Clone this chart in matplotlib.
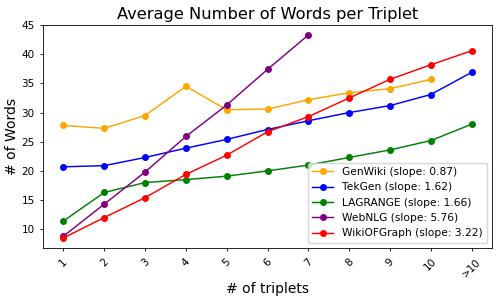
import matplotlib
matplotlib.use("Agg")
import matplotlib.pyplot as plt

x_labels = ["1", "2", "3", "4", "5", "6", "7", "8", "9", "10", ">10"]
genwiki = [27.8, 27.3, 29.5, 34.5, 30.5, 30.6, 32.2, 33.4, 34.1, 35.7]
tekgen = [20.7, 20.9, 22.3, 23.9, 25.4, 27.1, 28.6, 30.0, 31.2, 33.1, 36.9]
lagrange = [11.4, 16.3, 18.0, 18.5, 19.1, 20.0, 21.0, 22.3, 23.6, 25.2, 28.0]
webnlg = [8.8, 14.3, 19.8, 25.9, 31.3, 37.4, 43.3]
wikiofgraph = [8.5, 12.0, 15.4, 19.4, 22.7, 26.7, 29.3, 32.5, 35.7, 38.2, 40.6]

series = [
    ("GenWiki (slope: 0.87)", genwiki, "orange"),
    ("TekGen (slope: 1.62)", tekgen, "blue"),
    ("LAGRANGE (slope: 1.66)", lagrange, "green"),
    ("WebNLG (slope: 5.76)", webnlg, "purple"),
    ("WikiOFGraph (slope: 3.22)", wikiofgraph, "red"),
]

fig, ax = plt.subplots(figsize=(5, 3), dpi=100)
for label, vals, color in series:
    ax.plot(range(len(vals)), vals, marker="o", markersize=4, linewidth=1.05,
            color=color, label=label)

ax.set_xticks(range(len(x_labels)))
ax.set_xticklabels(x_labels, rotation=45)
ax.set_title("Average Number of Words per Triplet", fontsize=11.7, pad=4)
ax.set_xlabel("# of triplets", fontsize=10, labelpad=2)
ax.set_ylabel("# of Words", fontsize=10, labelpad=2)
ax.tick_params(labelsize=7.5, length=2.5, width=0.6)
for s in ax.spines.values():
    s.set_linewidth(0.6)
ax.legend(loc="lower right", fontsize=7.7)
fig.subplots_adjust(left=0.086, right=0.984, top=0.917, bottom=0.173)
fig.savefig("out.png")
